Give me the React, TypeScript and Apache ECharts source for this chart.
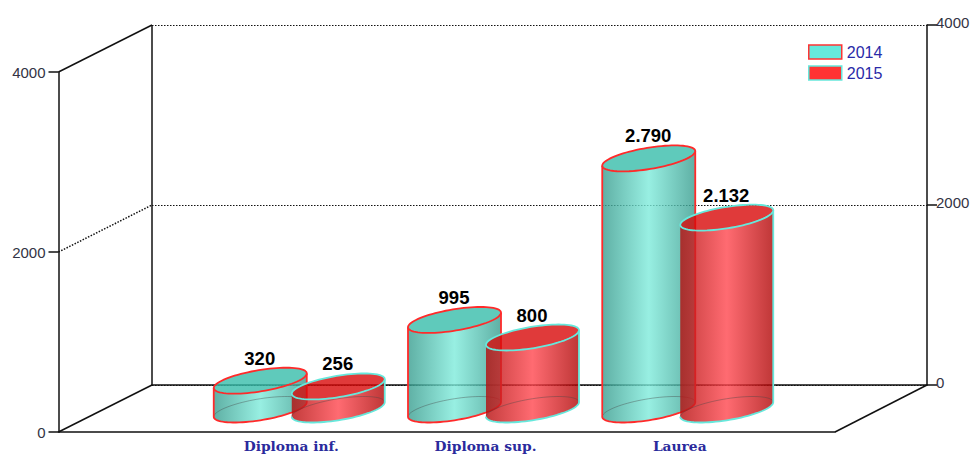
import React, { useEffect, useRef } from "react";
import * as echarts from "echarts";

const categories = ["", "Diploma inf.", "Diploma sup.", "Laurea", ""];
const categoryIndex = [1, 2, 3];
const values2014 = [320, 995, 2790];
const values2015 = [256, 800, 2132];
const valueLabels2014 = ["320", "995", "2.790"];
const valueLabels2015 = ["256", "800", "2.132"];
const seriesNames = ["2014", "2015"];
const yMax = 4000;
const yInterval = 2000;

const R = 46.5;
const C = 13;
const B = 2 * C;
const A = Math.sqrt(R * R - B * B);
const PHI = Math.atan2(B, A);

function ell(cx: number, cy: number, t: number): number[] {
  return [cx + A * Math.cos(t) + B * Math.sin(t), cy - C * Math.sin(t)];
}
function arc(cx: number, cy: number, from: number, to: number, n = 40): number[][] {
  const pts: number[][] = [];
  for (let i = 0; i <= n; i++) pts.push(ell(cx, cy, from + ((to - from) * i) / n));
  return pts;
}

function grad(edgeL: string, mid: string, edgeR: string) {
  return new echarts.graphic.LinearGradient(0, 0, 1, 0, [
    { offset: 0, color: edgeL },
    { offset: 0.5, color: mid },
    { offset: 1, color: edgeR },
  ]);
}

function cylinderSeries(
  name: string,
  values: number[],
  texts: string[],
  dx: number,
  stroke: string,
  top: string,
  body: any,
  leftEdge: boolean
) {
  return {
    name,
    type: "custom",
    xAxisIndex: 0,
    yAxisIndex: 0,
    z: 5,
    clip: false,
    data: values.map((v, i) => [categoryIndex[i], v]),
    itemStyle: { color: top },
    renderItem: (p: any, api: any) => {
      const idx = api.value(0);
      const val = api.value(1);
      const [x, y0] = api.coord([idx, 0]);
      const [, y1] = api.coord([idx, val]);
      const cx = x + dx;
      const frontBase = arc(cx, y0, PHI + Math.PI, PHI + 2 * Math.PI);
      const frontTop = arc(cx, y1, PHI + 2 * Math.PI, PHI + Math.PI);
      const backBase = arc(cx, y0, PHI, PHI + Math.PI);
      const outline = (leftEdge ? [frontTop[frontTop.length - 1]] : []).concat(frontBase, [frontTop[0]]);
      return {
        type: "group",
        children: [
          {
            type: "polygon",
            shape: { points: frontBase.concat(frontTop) },
            style: { fill: body, stroke: "none" },
          },
          {
            type: "polyline",
            shape: { points: backBase },
            style: { fill: "none", stroke: "rgba(70,70,70,0.4)", lineWidth: 1 },
          },
          {
            type: "polyline",
            shape: { points: outline },
            style: { fill: "none", stroke, lineWidth: 1.8 },
          },
          {
            type: "polygon",
            shape: { points: arc(cx, y1, 0, 2 * Math.PI, 80) },
            style: { fill: top, stroke, lineWidth: 1.8 },
          },
          {
            type: "text",
            style: {
              x: cx - 0.5,
              y: y1 - C - 9.5,
              text: texts[p.dataIndex],
              fill: "#000",
              font: 'bold 18.5px "Liberation Sans"',
              align: "center",
              verticalAlign: "middle",
            },
          },
        ],
      };
    },
  };
}

const axisFont = {
  fontFamily: "Liberation Sans",
  fontSize: 15,
  color: "#333344",
  formatter: (v: number) => String(v),
};
const black = { color: "#111", width: 1.5 };

export default function App() {
  const ref = useRef<HTMLDivElement>(null);
  useEffect(() => {
    document.body.style.margin = "0";
    const chart = echarts.init(ref.current!, undefined, { renderer: "svg" });
    const wall = (x1: number, y1: number, x2: number, y2: number, type = "solid", width = 1.5) => ({
      type: "line",
      z: 0,
      shape: { x1, y1, x2, y2 },
      style: { stroke: "#111", lineWidth: width, lineDash: type === "dotted" ? [1.5, 1.5] : undefined },
    });
    chart.setOption({
      animation: false,
      backgroundColor: "#fff",
      legend: {
        left: 803,
        top: 39,
        orient: "vertical",
        icon: "rect",
        itemWidth: 33,
        itemHeight: 14,
        itemGap: 5,
        selectedMode: false,
        textStyle: { fontFamily: "Liberation Sans", fontSize: 16, color: "#2a2aa8" },
        data: [
          { name: seriesNames[0], itemStyle: { color: "#66e8dc", borderColor: "#ff3333", borderWidth: 1.5 } },
          { name: seriesNames[1], itemStyle: { color: "#ff3333", borderColor: "#66e8dc", borderWidth: 1.5 } },
        ],
      },
      grid: [
        { left: 105, width: 777, top: 49.5, height: 360 },
        { left: 58.5, width: 776.5, top: 72, height: 360 },
        { left: 152, width: 775, top: 25, height: 360 },
        { left: 97, width: 777, top: 72, height: 360 },
      ],
      xAxis: [
        { gridIndex: 0, type: "category", boundaryGap: false, data: categories, show: false },
        {
          gridIndex: 1,
          type: "category",
          data: categories,
          axisLine: { lineStyle: black },
          axisTick: { show: false },
          axisLabel: { show: false },
        },
        {
          gridIndex: 2,
          type: "category",
          data: categories,
          axisLine: { lineStyle: black },
          axisTick: { show: false },
          axisLabel: { show: false },
        },
        {
          gridIndex: 3,
          type: "category",
          boundaryGap: false,
          data: categories,
          axisLine: { show: false },
          axisTick: { show: false },
          axisLabel: {
            margin: 7,
            interval: 0,
            fontFamily: "DejaVu Serif",
            fontWeight: "bold",
            fontSize: 13.8,
            color: "#2a2a9c",
          },
        },
      ],
      yAxis: [
        { gridIndex: 0, type: "value", min: 0, max: yMax, interval: yInterval, show: false },
        {
          gridIndex: 1,
          type: "value",
          min: 0,
          max: yMax,
          interval: yInterval,
          position: "left",
          axisLine: { show: true, lineStyle: black },
          axisTick: { show: true, length: 10, lineStyle: black },
          axisLabel: { margin: 13, ...axisFont },
          splitLine: { show: false },
        },
        {
          gridIndex: 2,
          type: "value",
          min: 0,
          max: yMax,
          interval: yInterval,
          position: "right",
          axisLine: { show: true, lineStyle: black },
          axisTick: { show: true, length: 10, lineStyle: black },
          axisLabel: { margin: 9, verticalAlign: "bottom", lineHeight: 5, ...axisFont },
          splitLine: { show: true, lineStyle: { color: "#111", width: 1, type: [1.5, 1.5] } },
        },
        { gridIndex: 3, type: "value", min: 0, max: yMax, interval: yInterval, show: false },
      ],
      graphic: [
        wall(58.5, 72, 152, 25),
        wall(58.5, 252, 152, 205, "dotted"),
        wall(58.5, 432, 152, 385),
        wall(152, 25, 152, 385),
        wall(835, 432, 927, 385),
      ],
      series: [
        cylinderSeries(
          seriesNames[0],
          values2014,
          valueLabels2014,
          -39,
          "#ff2a2a",
          "rgba(55,189,170,0.8)",
          grad("rgba(55,156,142,0.8)", "rgba(126,235,219,0.8)", "rgba(55,156,142,0.8)"),
          true
        ),
        cylinderSeries(
          seriesNames[1],
          values2015,
          valueLabels2015,
          39,
          "#66e8dc",
          "rgba(216,9,9,0.8)",
          grad("rgba(181,11,11,0.8)", "rgba(255,70,78,0.8)", "rgba(175,5,5,0.8)"),
          false
        ),
      ],
    });
    return () => chart.dispose();
  }, []);
  return <div ref={ref} style={{ position: "fixed", left: 0, top: 0, width: 973, height: 456 }} />;
}
